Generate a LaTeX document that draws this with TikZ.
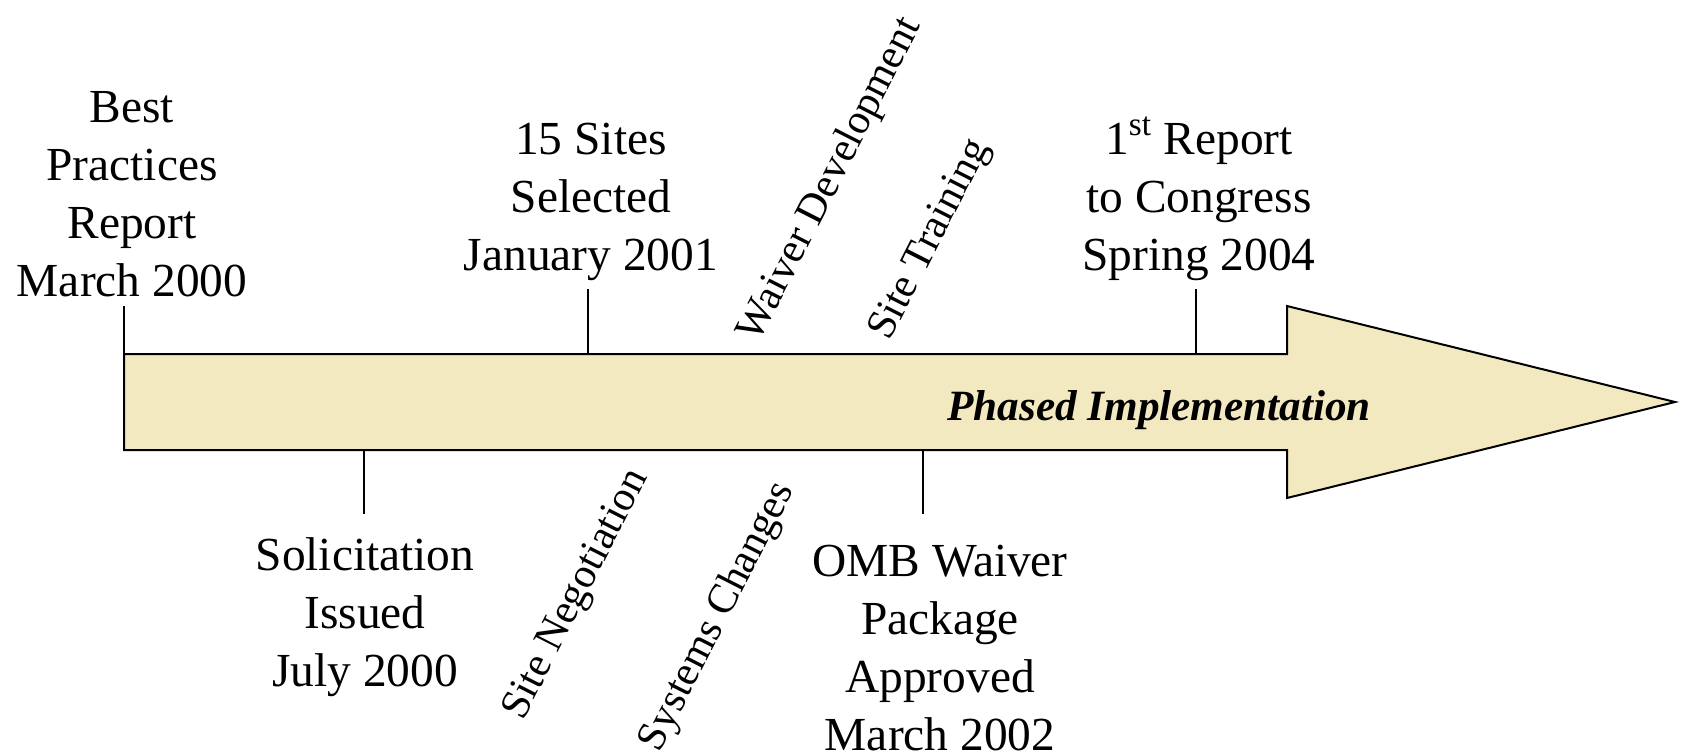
\documentclass[tikz,border=0pt]{standalone}
\usepackage{fontspec}
\setmainfont{Liberation Serif}
\definecolor{arrowfill}{RGB}{243,233,192}
\begin{document}
\begin{tikzpicture}[x=0.5pt,y=-0.5pt,
  lbl/.style={inner sep=0pt, anchor=base, font=\fontsize{23.7}{29}\selectfont},
  rot/.style={inner sep=0pt, anchor=center, rotate=63, font=\fontsize{21}{25}\selectfont},
  tickline/.style={line width=1pt},
  body/.style={line width=1pt, fill=arrowfill, line join=miter},
  ]
\useasboundingbox (0,0) rectangle (1682,755);
% big arrow
\draw[body] (124,354) -- (1287,354) -- (1287,306) -- (1675,402) -- (1287,498) -- (1287,450) -- (124,450) -- cycle;
\node[inner sep=0pt, anchor=base, font=\fontsize{21.6}{26}\selectfont\bfseries\itshape] (phase) at (1159,420) {Phased Implementation};
% tick coordinates
\coordinate (t1a) at (124,354); \coordinate (t1b) at (124,306);
\coordinate (t2a) at (588,354); \coordinate (t2b) at (588,289);
\coordinate (t3a) at (1196,354); \coordinate (t3b) at (1196,289);
\coordinate (t4a) at (364,450); \coordinate (t4b) at (364,514);
\coordinate (t5a) at (923,450); \coordinate (t5b) at (923,514);
\draw[tickline] (t1a) -- (t1b);
\draw[tickline] (t2a) -- (t2b);
\draw[tickline] (t3a) -- (t3b);
\draw[tickline] (t4a) -- (t4b);
\draw[tickline] (t5a) -- (t5b);
% labels above
\node[lbl] (bp) at (132,122) {\begin{tabular}[t]{@{}c@{}}Best\\Practices\\Report\\March 2000\end{tabular}};
\node[lbl] (ss) at (591,154) {\begin{tabular}[t]{@{}c@{}}15 Sites\\Selected\\January 2001\end{tabular}};
\node[lbl] (rc) at (1199,154) {\begin{tabular}[t]{@{}c@{}}1\textsuperscript{st} Report\\to Congress\\Spring 2004\end{tabular}};
% labels below
\node[lbl] (si) at (365,570) {\begin{tabular}[t]{@{}c@{}}Solicitation\\Issued\\July 2000\end{tabular}};
\node[lbl] (omb) at (940,576) {\begin{tabular}[t]{@{}c@{}}OMB Waiver\\Package\\Approved\\March 2002\end{tabular}};
% rotated labels
\node[rot] (wd) at (831,180) {Waiver Development};
\node[rot] (st) at (931,240) {Site Training};
\node[rot] (sn) at (577,595) {Site Negotiation};
\node[rot] (sc) at (718,617) {Systems Changes};
\end{tikzpicture}
\end{document}
